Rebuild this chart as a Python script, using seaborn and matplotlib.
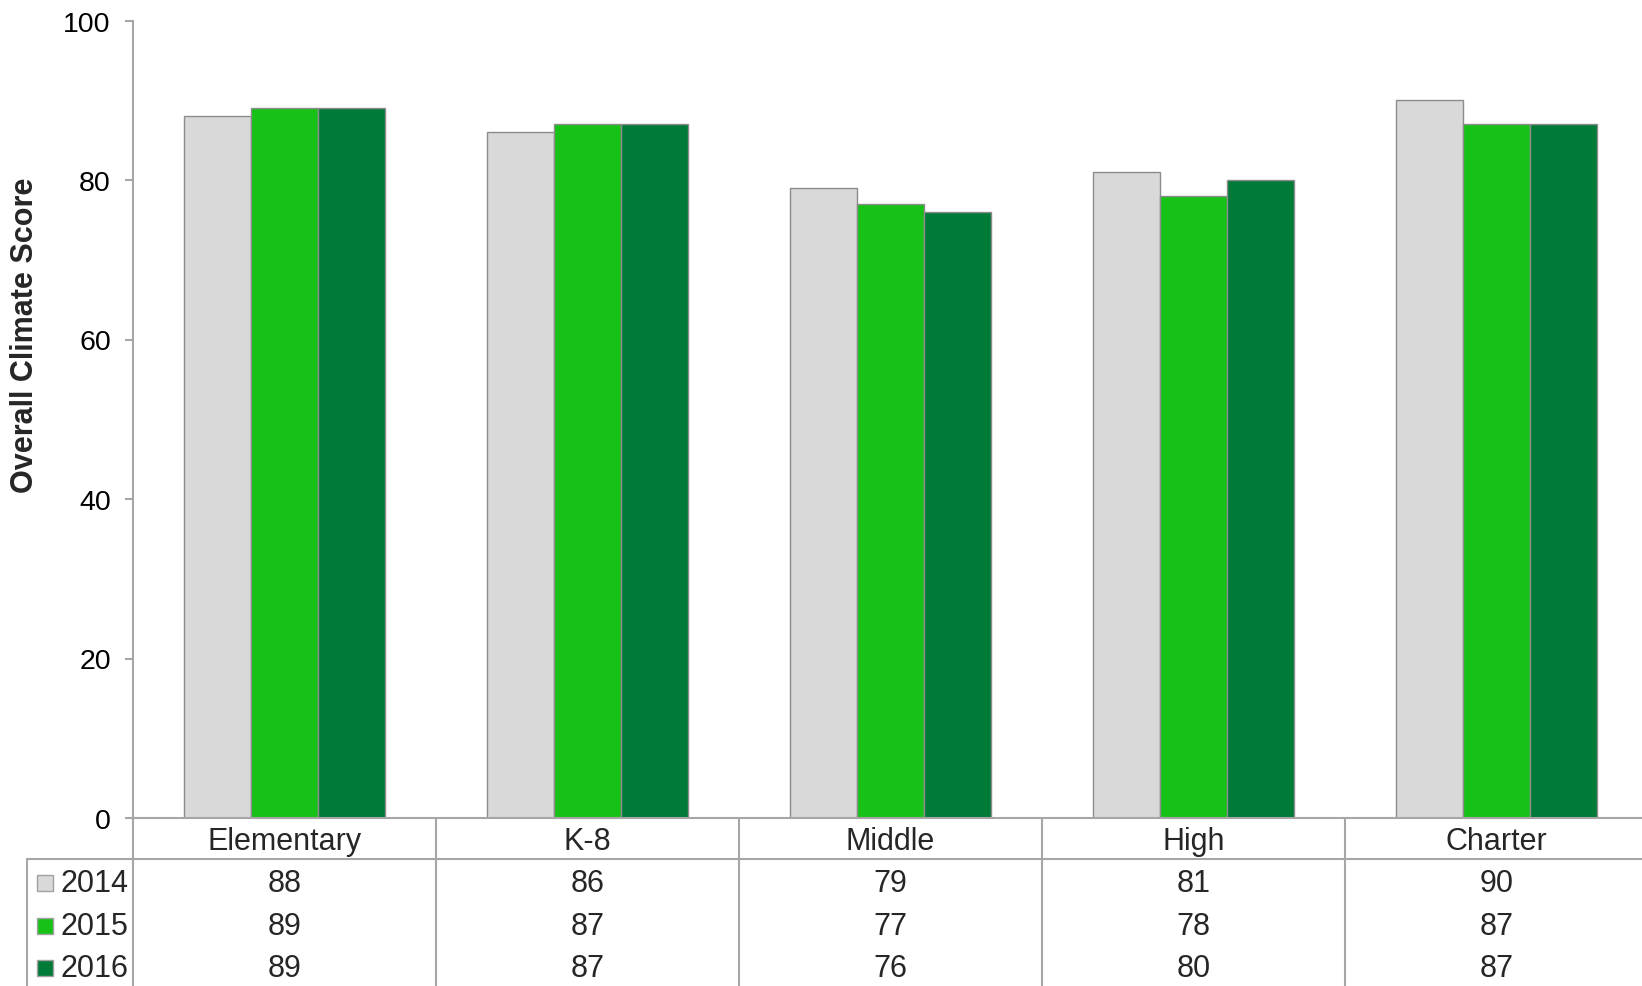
import numpy as np
import pandas as pd
import matplotlib.pyplot as plt
import seaborn as sns
from matplotlib.patches import Rectangle
from matplotlib.lines import Line2D
from matplotlib.transforms import blended_transform_factory

schools = ["Elementary", "K-8", "Middle", "High", "Charter"]
years = ["2014", "2015", "2016"]
scores_2014 = [88, 86, 79, 81, 90]
scores_2015 = [89, 87, 77, 78, 87]
scores_2016 = [89, 87, 76, 80, 87]
year_colors = ["#D9D9D9", "#17C217", "#007A37"]

W, H = 1642, 987
GRID = "#a6a6a6"

df = pd.DataFrame({
    "school": schools * 3,
    "year": np.repeat(years, len(schools)),
    "score": scores_2014 + scores_2015 + scores_2016,
})

sns.set_theme(style="white")
plt.rcParams["font.family"] = ["Liberation Sans", "DejaVu Sans"]

fig = plt.figure(figsize=(W / 100, H / 100), dpi=100)
ax = fig.add_axes([133 / W, 1 - 819 / H, 1 - 133 / W, (819 - 21.5) / H])

sns.barplot(
    data=df, x="school", y="score", hue="year", order=schools, hue_order=years,
    palette=year_colors, width=0.663, gap=0, saturation=1,
    edgecolor="#8c8c8c", linewidth=1, legend=False, ax=ax,
)

ax.set_xlim(-0.5, -0.5 + (W - 133) / 303)
ax.set_ylim(0, 100)
ax.set_yticks(range(0, 101, 20))
ax.set_xticks([])
ax.set_xlabel("")
ax.set_ylabel("")
for side in ["top", "right"]:
    ax.spines[side].set_visible(False)
for side in ["left", "bottom"]:
    ax.spines[side].set_color(GRID)
    ax.spines[side].set_linewidth(1.5)
ax.tick_params(axis="y", left=True, length=6, width=1.5, color=GRID,
               labelsize=20.5, pad=10, labelcolor="black")

fig.text(25 / W, 1 - 335 / H, "Overall Climate Score", rotation=90,
         ha="center", va="center", fontsize=22, fontweight="bold")

# data table under the axis
trans = blended_transform_factory(ax.transData, fig.transFigure)
row_y = [884, 927, 969]
values = [scores_2014, scores_2015, scores_2016]

for i, name in enumerate(schools):
    ax.text(i, 1 - 842 / H, name, transform=trans, ha="center", va="center",
            fontsize=22, clip_on=False)
    for j in range(len(years)):
        ax.text(i, 1 - row_y[j] / H, str(values[j][i]), transform=trans,
                ha="center", va="center", fontsize=22, clip_on=False)
    fig.add_artist(Line2D([i - 0.5, i - 0.5], [1 - 819 / H, 0], transform=trans,
                          color=GRID, lw=1.5))

fig.add_artist(Line2D([27 / W, 1], [1 - 860 / H, 1 - 860 / H],
                      transform=fig.transFigure, color=GRID, lw=1.5))
fig.add_artist(Line2D([27 / W, 27 / W], [1 - 860 / H, 0],
                      transform=fig.transFigure, color=GRID, lw=1.5))

for j, year in enumerate(years):
    fig.add_artist(Rectangle((37 / W, 1 - (row_y[j] + 8) / H), 16 / W, 16 / H,
                             transform=fig.transFigure, facecolor=year_colors[j],
                             edgecolor="#a0a0a0", lw=1))
    fig.text(60 / W, 1 - row_y[j] / H, year, ha="left", va="center", fontsize=22)

fig.savefig("out.png", dpi=100)
